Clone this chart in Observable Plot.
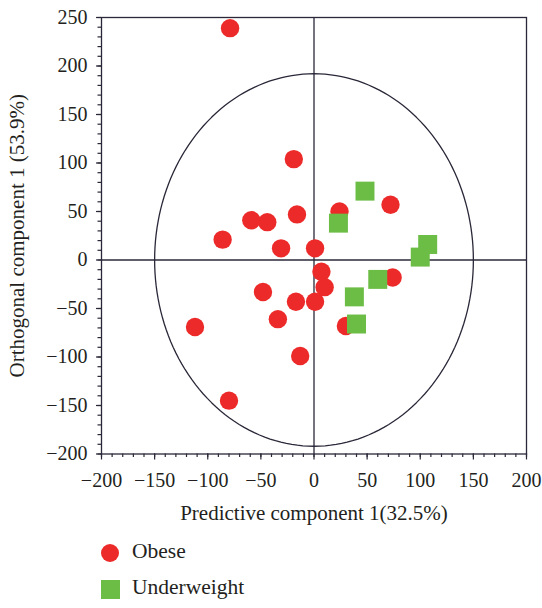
<!DOCTYPE html>
<html>
<head>
<meta charset="utf-8">
<script src="https://cdn.jsdelivr.net/npm/d3@7"></script>
<script src="https://cdn.jsdelivr.net/npm/@observablehq/plot@0.6"></script>
<style>
  html, body { margin: 0; padding: 0; background: #fff; }
  #wrap { position: relative; width: 542px; height: 608px; font-family: "Liberation Serif", serif; color: #231f20; }
  .lg-text { position: absolute; font-size: 21.5px; line-height: 20px; white-space: nowrap; }
  .lg-sym { position: absolute; }
</style>
</head>
<body>
<div id="wrap"></div>
<script>
// ---- Data ----
const obeseX = [-79, -19, -59, -44, -16, 24, 72, -86, -31, 1, 7, 10, -48, -17, 1, 74, -34, -112, 30, -13, -80];
const obeseY = [239, 104, 41, 39, 47, 50, 57, 21, 12, 12, -12, -28, -33, -43, -43, -18, -61, -69, -68, -99, -145];
const underX = [48, 23, 107, 100, 60, 38, 40];
const underY = [71, 38, 16, 3, -20, -38, -66];
const groups = ["Obese", "Underweight"];
const groupColors = ["#ED2A2A", "#6BBD45"];
const xTicks = [-200, -150, -100, -50, 0, 50, 100, 150, 200];
const yTicks = [-200, -150, -100, -50, 0, 50, 100, 150, 200, 250];
const xMinor = d3.range(-200, 201, 10);
const yMinor = d3.range(-200, 251, 10);
const ellipseRadii = [150, 192];
const xLabel = "Predictive component 1(32.5%)";
const yLabel = "Orthogonal component 1 (53.9%)";

const obese = obeseX.map((x, i) => ({x, y: obeseY[i]}));
const under = underX.map((x, i) => ({x, y: underY[i]}));
const ellipse = d3.range(0, 361, 2).map(a => ({
  x: ellipseRadii[0] * Math.cos(a * Math.PI / 180),
  y: ellipseRadii[1] * Math.sin(a * Math.PI / 180)
}));

const ink = "#2a2838";
const fmt = d3.format("d");

const chart = Plot.plot({
  width: 542,
  height: 530,
  marginTop: 17,
  marginBottom: 76.5,
  marginLeft: 101,
  marginRight: 16,
  style: { fontFamily: "Liberation Serif", fontSize: "20px", color: "#231f20", background: "#fff" },
  x: { domain: [-200, 200] },
  y: { domain: [-200, 250] },
  marks: [
    Plot.axisX({ ticks: xMinor, tickSize: 3.5, tickFormat: () => "", stroke: ink, strokeWidth: 1.2, label: null }),
    Plot.axisX({ ticks: xTicks, tickSize: 6, tickPadding: 13, tickFormat: fmt, stroke: ink, strokeWidth: 1.2, label: null, fill: "#231f20" }),
    Plot.axisX({ ticks: [], label: xLabel, labelAnchor: "center", labelArrow: "none", labelOffset: 66, fontSize: 21, fill: "#231f20" }),
    Plot.axisY({ ticks: yMinor, tickSize: 3.5, tickFormat: () => "", stroke: ink, strokeWidth: 1.2, label: null }),
    Plot.axisY({ ticks: yTicks, tickSize: 5, tickPadding: 9, tickFormat: fmt, stroke: ink, strokeWidth: 1.2, label: null, fill: "#231f20" }),
    Plot.axisY({ ticks: [], label: yLabel, labelAnchor: "center", labelArrow: "none", labelOffset: 92, fontSize: 21, fill: "#231f20" }),
    Plot.ruleX([0], { stroke: ink, strokeWidth: 1.3 }),
    Plot.ruleY([0], { stroke: ink, strokeWidth: 1.3 }),
    Plot.line(ellipse, { x: "x", y: "y", stroke: ink, strokeWidth: 1.3, curve: "linear" }),
    Plot.frame({ stroke: ink, strokeWidth: 1.3 }),
    Plot.dot(obese, { x: "x", y: "y", r: 9.2, fill: groupColors[0], stroke: "none" }),
    Plot.dot(under, { x: "x", y: "y", r: 10.7, symbol: "square", fill: groupColors[1], stroke: "none" })
  ]
});

const wrap = document.getElementById("wrap");
wrap.appendChild(chart);

// Legend (below the SVG)
const legendItems = [
  { label: groups[0], color: groupColors[0], shape: "circle", top: 544, textTop: 541 },
  { label: groups[1], color: groupColors[1], shape: "square", top: 580, textTop: 577 }
];
legendItems.forEach(it => {
  const s = document.createElement("div");
  s.className = "lg-sym";
  s.style.left = "101px";
  s.style.top = it.top + "px";
  s.style.width = (it.shape === "circle" ? 18.4 : 19) + "px";
  s.style.height = (it.shape === "circle" ? 18.4 : 19) + "px";
  s.style.background = it.color;
  if (it.shape === "circle") s.style.borderRadius = "50%";
  wrap.appendChild(s);
  const t = document.createElement("div");
  t.className = "lg-text";
  t.style.left = "132px";
  t.style.top = it.textTop + "px";
  t.textContent = it.label;
  wrap.appendChild(t);
});
</script>
</body>
</html>
